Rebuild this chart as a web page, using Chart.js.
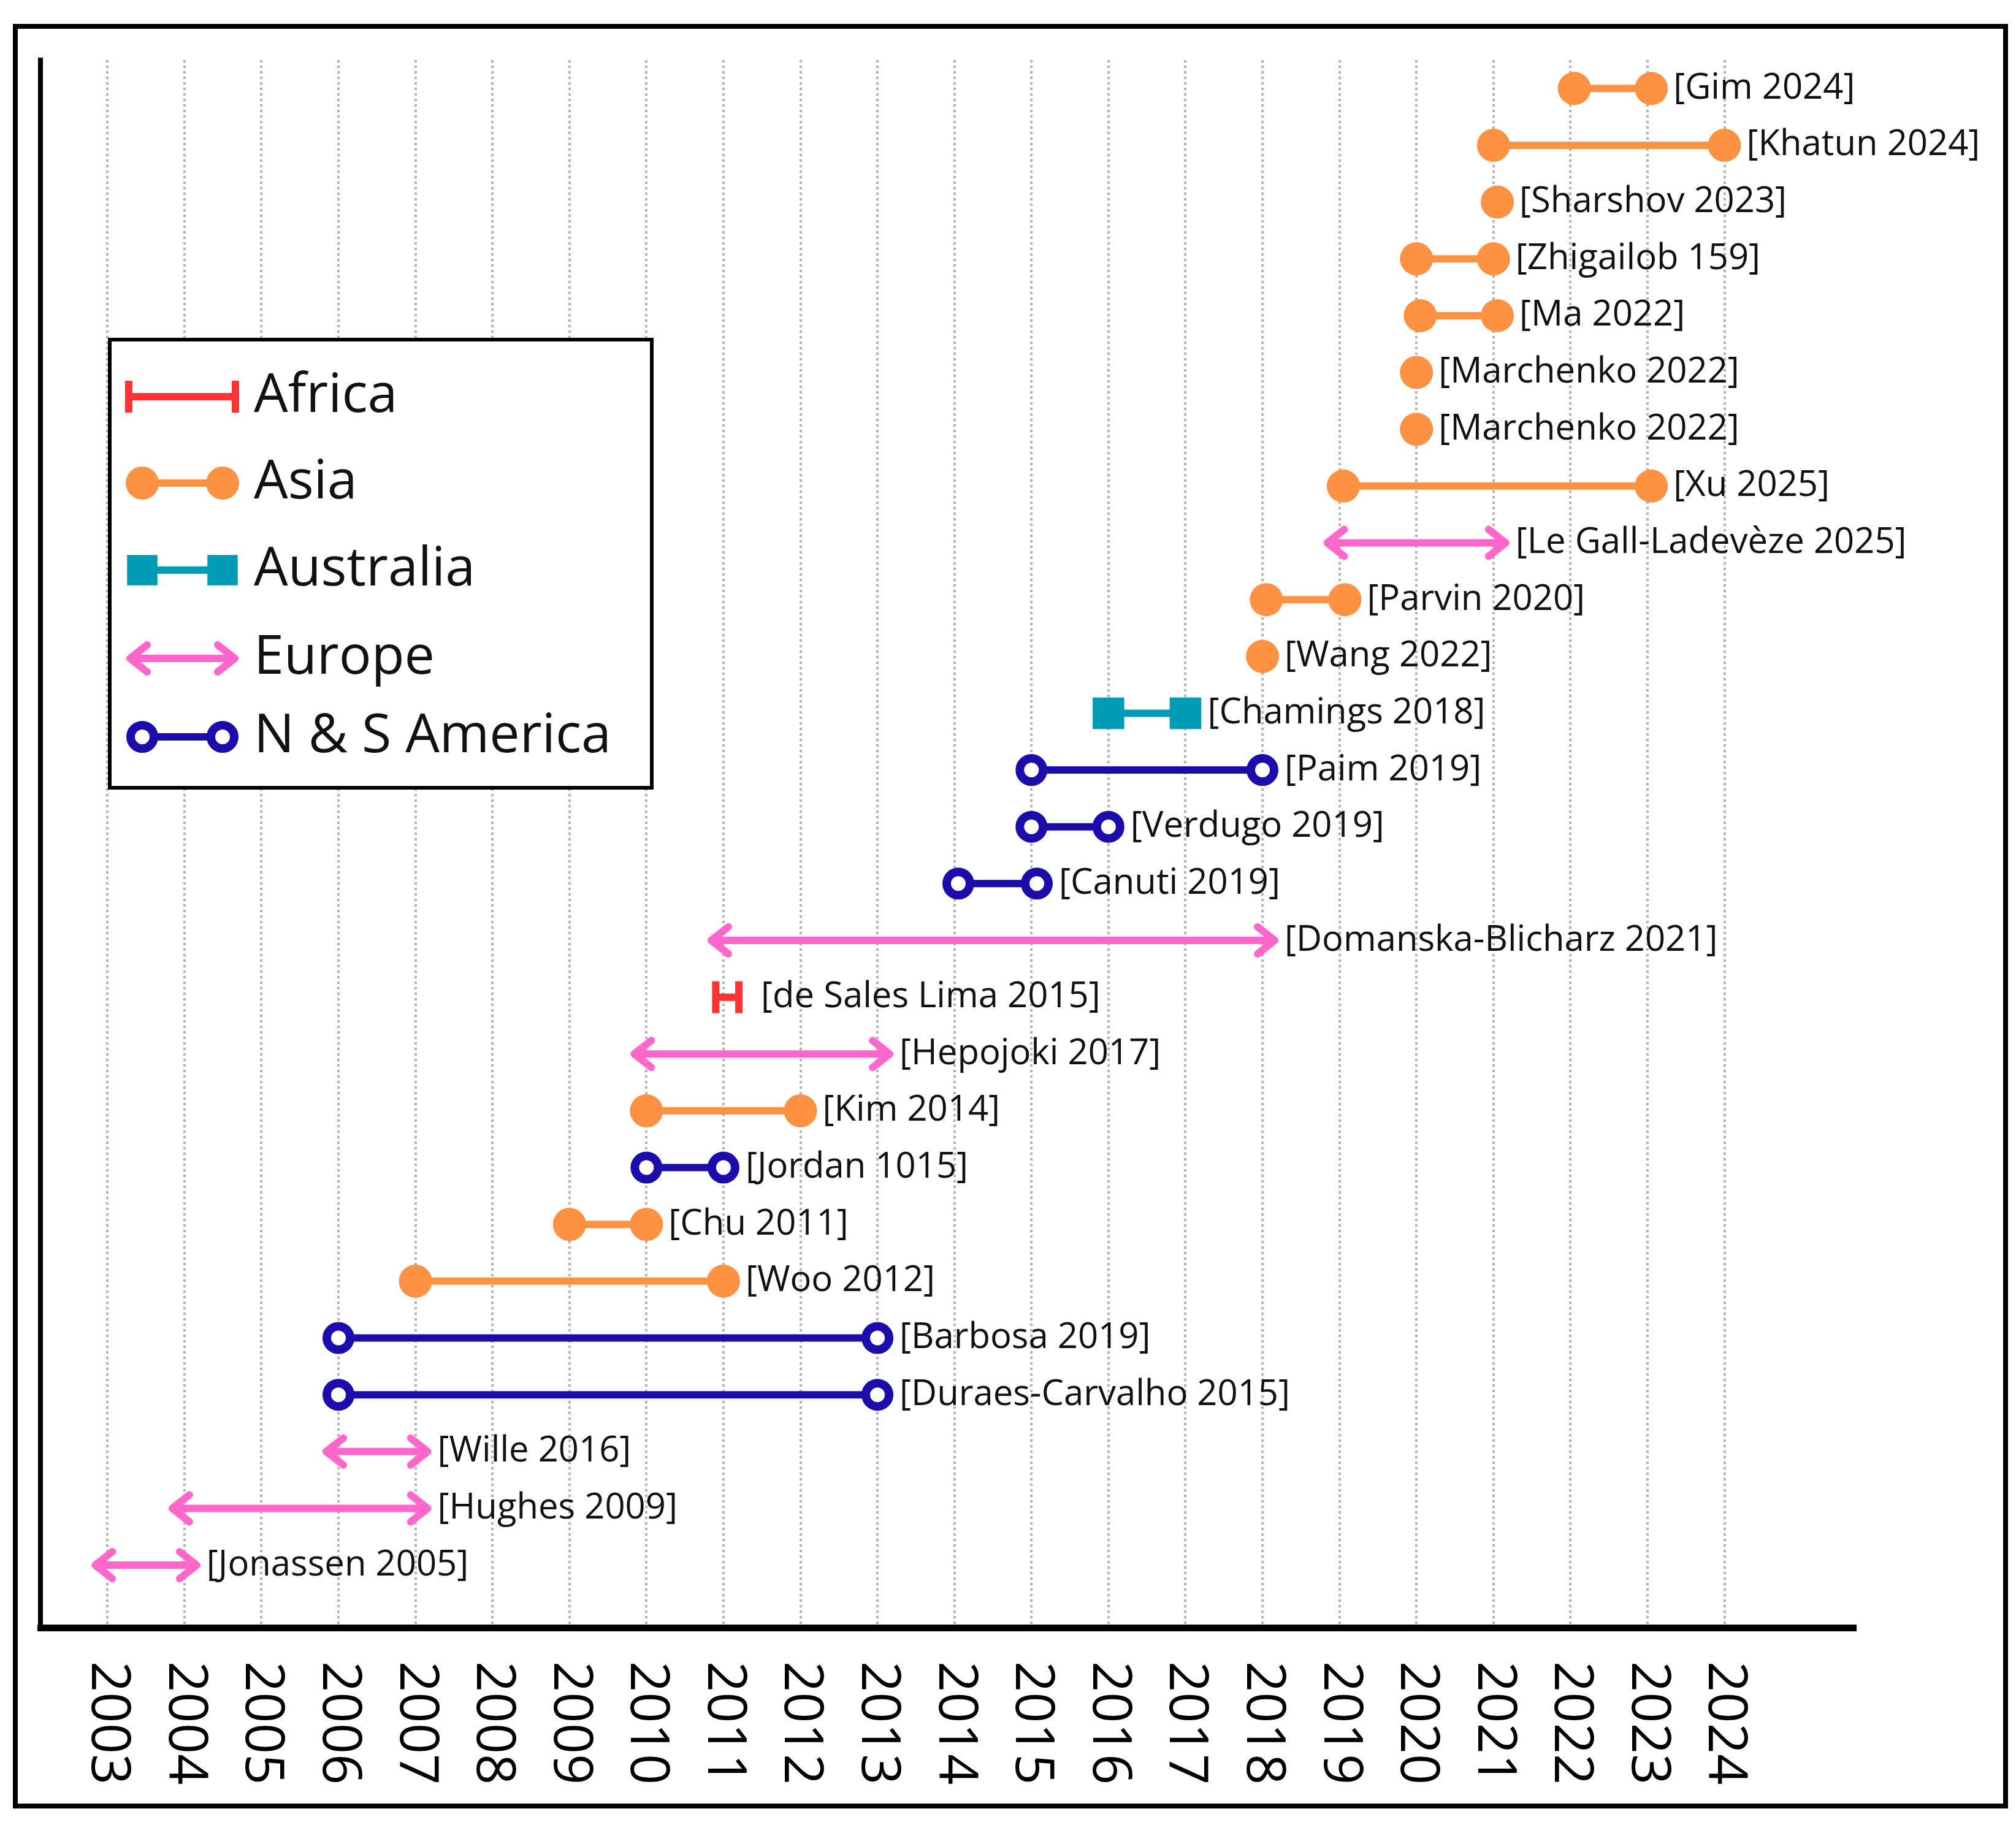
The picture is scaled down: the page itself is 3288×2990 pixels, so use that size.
<!DOCTYPE html>
<html>
<head>
<meta charset="utf-8">
<script src="https://cdn.jsdelivr.net/npm/chart.js@4/dist/chart.umd.min.js"></script>
<style>
    html, body { margin: 0; padding: 0; background: #fff; }
    canvas { display: block; }
</style>
</head>
<body>
<canvas id="timelineChart" width="3288" height="2990"></canvas>
<script>
// ===========================
// Datos del gráfico
// ===========================

const years = [2003, 2004, 2005, 2006, 2007, 2008, 2009, 2010, 2011, 2012, 2013,
    2014, 2015, 2016, 2017, 2018, 2019, 2020, 2021, 2022, 2023, 2024];

const regionNames = ['Africa', 'Asia', 'Australia', 'Europe', 'N & S America'];

// Estudios de arriba hacia abajo
const studies = ['[Gim 2024]', '[Khatun 2024]', '[Sharshov 2023]', '[Zhigailob 159]', '[Ma 2022]',
    '[Marchenko 2022]', '[Marchenko 2022]', '[Xu 2025]', '[Le Gall-Ladevèze 2025]', '[Parvin 2020]',
    '[Wang 2022]', '[Chamings 2018]', '[Paim 2019]', '[Verdugo 2019]', '[Canuti 2019]',
    '[Domanska-Blicharz 2021]', '[de Sales Lima 2015]', '[Hepojoki 2017]', '[Kim 2014]', '[Jordan 1015]',
    '[Chu 2011]', '[Woo 2012]', '[Barbosa 2019]', '[Duraes-Carvalho 2015]', '[Wille 2016]',
    '[Hughes 2009]', '[Jonassen 2005]'];

const studyRegion = ['Asia', 'Asia', 'Asia', 'Asia', 'Asia',
    'Asia', 'Asia', 'Asia', 'Europe', 'Asia',
    'Asia', 'Australia', 'N & S America', 'N & S America', 'N & S America',
    'Europe', 'Africa', 'Europe', 'Asia', 'N & S America',
    'Asia', 'Asia', 'N & S America', 'N & S America', 'Europe',
    'Europe', 'Europe'];

const startYear = [2022.05, 2021, 2021.05, 2020, 2020.05,
    2020, 2020, 2019.05, 2019, 2018.05,
    2018, 2016, 2015, 2015, 2014.05,
    2011, 2010.9, 2010, 2010, 2010,
    2009, 2007, 2006, 2006, 2006,
    2004, 2003];

const endYear = [2023.05, 2024, null, 2021, 2021.05,
    null, null, 2023.05, 2021, 2019.07,
    null, 2017, 2018, 2016, 2015.07,
    2018, 2011.2, 2013, 2012, 2011,
    2010, 2011, 2013, 2013, 2007,
    2007, 2004];

// ===========================
// Estilos por región
// ===========================

const LABEL_FONT = '58px "Open Sans", "Noto Sans", sans-serif';
const LEGEND_FONT = '88px "Open Sans", "Noto Sans", sans-serif';
const TICK_FONT = '88px "Open Sans", "Noto Sans", sans-serif';

/**
 * Crea la punta de flecha (chevron) como imagen para pointStyle
 */
function makeArrowHead(color) {
    const c = document.createElement('canvas');
    c.width = 72;
    c.height = 66;
    const g = c.getContext('2d');
    const cx = 36, cy = 33;
    g.strokeStyle = color;
    g.lineWidth = 12;
    g.lineCap = 'round';
    g.lineJoin = 'round';
    g.beginPath();
    g.moveTo(cx - 8, cy - 22);
    g.lineTo(cx + 20, cy);
    g.lineTo(cx - 8, cy + 22);
    g.moveTo(cx, cy);
    g.lineTo(cx + 20, cy);
    g.stroke();
    return c;
}

const arrowHead = makeArrowHead('#FF66CC');

const regionStyle = {
    'Africa': { color: '#FF3333', pointStyle: 'line', radius: 26, fill: '#FF3333', pointBorder: 12, rotation: 90 },
    'Asia': { color: '#FF9142', pointStyle: 'circle', radius: 27, fill: '#FF9142', pointBorder: 0, rotation: 0 },
    'Australia': { color: '#009BB5', pointStyle: 'rect', radius: 35, fill: '#009BB5', pointBorder: 2, rotation: 0 },
    'Europe': { color: '#FF66CC', pointStyle: arrowHead, radius: 30, fill: '#FF66CC', pointBorder: 0, rotation: null },
    'N & S America': { color: '#1A0DAB', pointStyle: 'circle', radius: 19, fill: '#ffffff', pointBorder: 14, rotation: 0 }
};

/**
 * Construye un dataset por estudio
 */
function buildDatasets() {
    return studies.map((name, i) => {
        const st = regionStyle[studyRegion[i]];
        const row = studies.length - i;
        const pts = [{ x: startYear[i], y: row }];
        if (endYear[i] !== null) pts.push({ x: endYear[i], y: row });
        return {
            label: name,
            data: pts,
            showLine: true,
            borderColor: st.color,
            borderWidth: 12,
            pointStyle: st.pointStyle,
            pointRadius: st.radius,
            pointBackgroundColor: st.fill,
            pointBorderColor: st.color,
            pointBorderWidth: st.pointBorder,
            pointRotation: st.rotation === null ? [180, 0] : st.rotation,
            clip: false
        };
    });
}

// ===========================
// Plugins de dibujo
// ===========================

// Marco exterior de la figura
const framePlugin = {
    id: 'frame',
    afterDraw(chart) {
        const ctx = chart.ctx;
        ctx.save();
        ctx.strokeStyle = '#000';
        ctx.lineWidth = 8;
        ctx.strokeRect(25, 43, 3246, 2903);
        ctx.restore();
    }
};

// Etiquetas de los estudios a la derecha de cada línea
const studyLabelsPlugin = {
    id: 'studyLabels',
    afterDatasetsDraw(chart) {
        const ctx = chart.ctx;
        ctx.save();
        ctx.font = LABEL_FONT;
        ctx.fillStyle = '#111';
        ctx.textAlign = 'left';
        ctx.textBaseline = 'middle';
        chart.data.datasets.forEach((ds, i) => {
            const meta = chart.getDatasetMeta(i);
            const last = meta.data[meta.data.length - 1];
            ctx.fillText(ds.label, last.x + 36, last.y);
        });
        ctx.restore();
    }
};

// Años del eje X girados 90° (leen de arriba hacia abajo)
const yearTicksPlugin = {
    id: 'yearTicks',
    afterDraw(chart) {
        const ctx = chart.ctx;
        const xScale = chart.scales.x;
        ctx.save();
        ctx.font = TICK_FONT;
        ctx.fillStyle = '#000';
        ctx.textAlign = 'left';
        ctx.textBaseline = 'middle';
        years.forEach(y => {
            const px = xScale.getPixelForValue(y);
            ctx.save();
            ctx.translate(px, chart.chartArea.bottom + 55);
            ctx.rotate(Math.PI / 2);
            ctx.fillText(String(y), 0, 0);
            ctx.restore();
        });
        ctx.restore();
    }
};

/**
 * Dibuja un marcador de la leyenda con el mismo estilo que los puntos
 */
function drawLegendMarker(ctx, st, x, y, rot) {
    ctx.save();
    if (typeof st.pointStyle === 'object') {
        ctx.translate(x, y);
        ctx.rotate(rot * Math.PI / 180);
        ctx.drawImage(st.pointStyle, -st.pointStyle.width / 2, -st.pointStyle.height / 2);
    } else if (st.pointStyle === 'line') {
        ctx.strokeStyle = st.color;
        ctx.lineWidth = st.pointBorder;
        ctx.beginPath();
        ctx.moveTo(x, y - st.radius);
        ctx.lineTo(x, y + st.radius);
        ctx.stroke();
    } else if (st.pointStyle === 'rect') {
        const s = st.radius * Math.SQRT1_2;
        ctx.fillStyle = st.fill;
        ctx.fillRect(x - s, y - s, 2 * s, 2 * s);
    } else {
        ctx.beginPath();
        ctx.arc(x, y, st.radius, 0, Math.PI * 2);
        ctx.fillStyle = st.fill;
        ctx.fill();
        if (st.pointBorder > 0) {
            ctx.strokeStyle = st.color;
            ctx.lineWidth = st.pointBorder;
            ctx.stroke();
        }
    }
    ctx.restore();
}

// Leyenda con recuadro dentro del área del gráfico
const legendBoxPlugin = {
    id: 'legendBox',
    afterDraw(chart) {
        const ctx = chart.ctx;
        const rowsY = [647, 788, 930, 1074, 1202];
        ctx.save();
        ctx.fillStyle = '#fff';
        ctx.fillRect(179, 554, 884, 731);
        ctx.strokeStyle = '#000';
        ctx.lineWidth = 6;
        ctx.strokeRect(179, 554, 884, 731);

        regionNames.forEach((name, i) => {
            const st = regionStyle[name];
            const y = rowsY[i];
            const x1 = name === 'Africa' ? 210 : 232;
            const x2 = name === 'Africa' ? 384 : 363;
            ctx.strokeStyle = st.color;
            ctx.lineWidth = 12;
            ctx.beginPath();
            ctx.moveTo(x1, y);
            ctx.lineTo(x2, y);
            ctx.stroke();
            drawLegendMarker(ctx, st, x1, y, 180);
            drawLegendMarker(ctx, st, x2, y, 0);

            ctx.fillStyle = '#111';
            ctx.font = LEGEND_FONT;
            ctx.textAlign = 'left';
            ctx.textBaseline = 'middle';
            ctx.fillText(name, 414, y);
        });
        ctx.restore();
    }
};

// ===========================
// Inicialización
// ===========================

function initChart() {
    const ctx = document.getElementById('timelineChart');
    new Chart(ctx, {
        type: 'scatter',
        data: { datasets: buildDatasets() },
        options: {
            responsive: false,
            animation: false,
            devicePixelRatio: 1,
            layout: { padding: { left: 66, top: 98, right: 262, bottom: 335 } },
            plugins: {
                legend: { display: false },
                tooltip: { enabled: false }
            },
            scales: {
                x: {
                    type: 'linear',
                    min: 2002.13,
                    max: 2025.7,
                    afterBuildTicks: scale => {
                        scale.ticks = years.map(v => ({ value: v }));
                    },
                    ticks: { display: false },
                    grid: { color: '#b4b4b4', lineWidth: 4, drawTicks: false },
                    border: { color: '#000', width: 11, dash: [4, 5] }
                },
                y: {
                    type: 'linear',
                    min: -0.1,
                    max: studies.length + 0.5,
                    ticks: { display: false },
                    grid: { display: false, drawTicks: false },
                    border: { color: '#000', width: 8 }
                }
            }
        },
        plugins: [studyLabelsPlugin, yearTicksPlugin, legendBoxPlugin, framePlugin]
    });
}

Promise.all([
    document.fonts.load(LABEL_FONT),
    document.fonts.load(LEGEND_FONT)
]).then(initChart, initChart);
</script>
</body>
</html>
